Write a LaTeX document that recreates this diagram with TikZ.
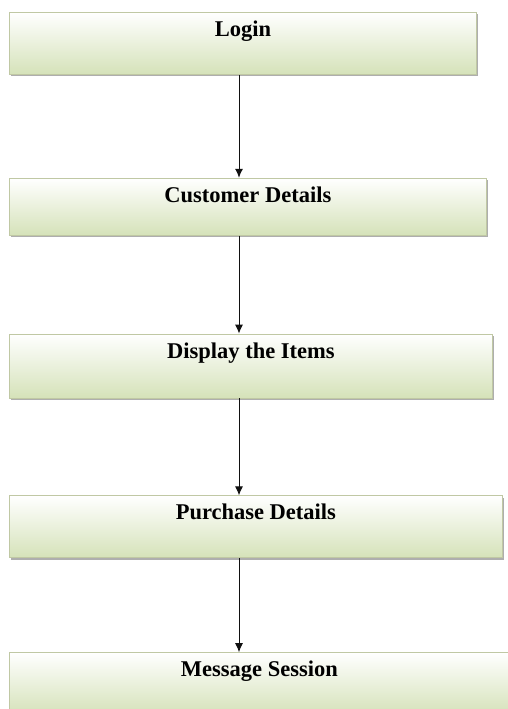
\documentclass[tikz,border=0pt]{standalone}
\usepackage{fontspec}
\setmainfont{Liberation Serif}
\usepackage{xcolor}
\usepackage{tikz}
\usetikzlibrary{arrows.meta, positioning, shadows}
\definecolor{boxgreen}{HTML}{D5E2B9}
\definecolor{boxedge}{HTML}{C0C8A4}
\definecolor{ink}{HTML}{111111}
\tikzset{
  stepbox/.style ={draw=boxedge, line width=0.8pt, top color=white, bottom color=boxgreen,
                   drop shadow={shadow xshift=1.8pt, shadow yshift=-1.8pt, fill=black!45, opacity=0.7},
                   anchor=north west, text height=24pt, inner ysep=0pt, align=center,
                   font=\fontsize{22.5}{24}\selectfont\bfseries},
  flow/.style    ={-{Latex[length=9pt,width=8pt]}, line width=1pt, draw=ink}
}
\begin{document}
\begin{tikzpicture}[x=1pt, y=1pt]
  \useasboundingbox (0,0) rectangle (507,-709);
  \coordinate (spine) at (239,0);
  \node[stepbox, minimum width=467pt, text depth=38pt] (login) at (9,-12) {Login};
  \node[stepbox, minimum width=477pt, text depth=33pt, below=103pt of login.south west, anchor=north west] (cust) {Customer Details};
  \node[stepbox, minimum width=483pt, text depth=40pt, below=98pt of cust.south west, anchor=north west] (items) {Display the Items};
  \node[stepbox, minimum width=493pt, text depth=38pt, below=97pt of items.south west, anchor=north west] (purch) {Purchase Details};
  \node[stepbox, minimum width=500pt, text depth=38pt, below=94pt of purch.south west, anchor=north west] (msg) {Message Session};
  \draw[flow] (login.south -| spine) -- (cust.north -| spine);
  \draw[flow] (cust.south -| spine) -- (items.north -| spine);
  \draw[flow] (items.south -| spine) -- (purch.north -| spine);
  \draw[flow] (purch.south -| spine) -- (msg.north -| spine);
\end{tikzpicture}
\end{document}
